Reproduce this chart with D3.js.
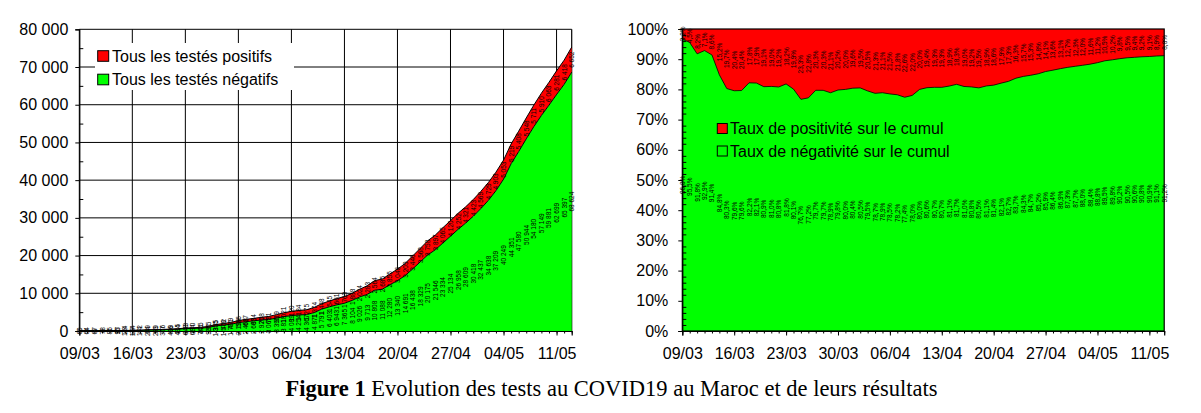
<!DOCTYPE html>
<html>
<head>
<meta charset="utf-8">
<script src="https://cdn.jsdelivr.net/npm/d3@7"></script>
<style>
  body { margin: 0; background: #fff; }
  svg { display: block; font-family: Arial, "Liberation Sans", sans-serif; }
</style>
</head>
<body>
<svg id="chart" width="1201" height="413"></svg>
<script>
// Category labels (one per day, 09/03 to 13/05)
const days = [
  "09/03","10/03","11/03","12/03","13/03","14/03","15/03","16/03","17/03","18/03",
  "19/03","20/03","21/03","22/03","23/03","24/03","25/03","26/03","27/03","28/03",
  "29/03","30/03","31/03","01/04","02/04","03/04","04/04","05/04","06/04","07/04",
  "08/04","09/04","10/04","11/04","12/04","13/04","14/04","15/04","16/04","17/04",
  "18/04","19/04","20/04","21/04","22/04","23/04","24/04","25/04","26/04","27/04",
  "28/04","29/04","30/04","01/05","02/05","03/05","04/05","05/05","06/05","07/05",
  "08/05","09/05","10/05","11/05","12/05","13/05"
];

// Cumulative positive tests
const positifs = [
  2, 3, 6, 6, 8, 17, 28, 37, 44, 54,
  63, 77, 96, 115, 143, 170, 225, 275, 345, 402,
  479, 556, 617, 654, 708, 791, 919, 1021, 1120, 1184,
  1275, 1374, 1448, 1545, 1661, 1763, 1888, 2024, 2283, 2564,
  2685, 2855, 3046, 3209, 3446, 3568, 3758, 3897, 4065, 4120,
  4252, 4321, 4423, 4569, 4729, 4903, 5053, 5219, 5408, 5548,
  5711, 5910, 6063, 6281, 6418, 6652
];

// Cumulative negative tests
const negatifs = [
  60, 64, 67, 78, 85, 95, 114, 144, 172, 249,
  289, 326, 409, 484, 643, 684, 741, 931, 1355, 1578,
  1791, 2196, 2468, 2683, 2920, 3067, 3395, 3818, 4089, 4254,
  4367, 4871, 5791, 6403, 6943, 7365, 8104, 9026, 9713, 10808,
  11088, 12280, 13340, 14691, 16438, 18329, 20175, 21546, 23334, 25134,
  26958, 28609, 30418, 32437, 34638, 37209, 40249, 44351, 47580, 50944,
  54180, 57149, 59881, 62699, 65397, 68624
];

// Weekly tick labels
const weekTicks = ["09/03","16/03","23/03","30/03","06/04","13/04","20/04","27/04","04/05","11/05"];
const leftYTicks = [0, 10000, 20000, 30000, 40000, 50000, 60000, 70000, 80000];
const rightYTicks = [0, 0.1, 0.2, 0.3, 0.4, 0.5, 0.6, 0.7, 0.8, 0.9, 1];

const RED = "#ff0000", GREEN = "#00ff00";
const SANS = "Arial, 'Liberation Sans', sans-serif";

const fr = d3.formatLocale({ decimal: ",", thousands: " ", grouping: [3], currency: ["", ""], percent: "%" });
const fmtInt = fr.format(",d");
const fmtPct = fr.format(".1%");
const fmtPct0 = fr.format(".0%");

const parse = d3.timeParse("%d/%m/%Y");
const dates = days.map(d => parse(d + "/2020"));
const weekDates = weekTicks.map(d => parse(d + "/2020"));
const rows = days.map((d, i) => ({
  date: dates[i],
  pos: positifs[i],
  neg: negatifs[i],
  total: positifs[i] + negatifs[i]
}));

const svg = d3.select("#chart");

function dayAxes(g, x, bottom) {
  // daily minor ticks
  g.append("g")
    .attr("transform", `translate(0,${bottom})`)
    .call(d3.axisBottom(x).tickValues(dates).tickSize(2.5).tickFormat(""))
    .call(a => a.select(".domain").remove())
    .call(a => a.selectAll("line").attr("stroke", "#000"));
  // weekly major ticks + labels
  g.append("g")
    .attr("transform", `translate(0,${bottom})`)
    .call(d3.axisBottom(x).tickValues(weekDates)
      .tickSize(4.5).tickPadding(12.5)
      .tickFormat(d3.timeFormat("%d/%m")))
    .call(a => a.select(".domain").attr("stroke", "#000").attr("stroke-width", 1.2))
    .call(a => a.selectAll("line").attr("stroke", "#000"))
    .call(a => a.selectAll("text").attr("font-size", 16).attr("fill", "#000").attr("font-family", SANS));
}

function addLabels(g, data, x, y, fmt) {
  const lab = g.append("g").attr("font-size", 6.5).attr("fill", "#000")
    .attr("font-family", SANS)
    .attr("text-anchor", "middle").attr("dominant-baseline", "central");
  lab.selectAll("text.neg").data(data).join("text").attr("class", "neg")
    .attr("transform", d => `translate(${x(d.date)},${y(d.neg / 2)}) rotate(-90)`)
    .text(d => fmt(d.neg));
  lab.selectAll("text.pos").data(data).join("text").attr("class", "pos")
    .attr("transform", d => `translate(${x(d.date)},${y(d.neg + d.pos / 2)}) rotate(-90)`)
    .text(d => fmt(d.pos));
}

// ---------------- Left chart: cumulative counts ----------------
(function leftChart() {
  const L = { x0: 79.3, x1: 571.7, top: 29.3, bottom: 331 };
  const x = d3.scaleTime().domain(d3.extent(dates)).range([L.x0, L.x1]);
  const y = d3.scaleLinear().domain([0, 80000]).range([L.bottom, L.top]);
  const g = svg.append("g");

  // gridlines
  g.append("g").selectAll("line").data(leftYTicks).join("line")
    .attr("x1", L.x0).attr("x2", L.x1)
    .attr("y1", d => y(d)).attr("y2", d => y(d))
    .attr("stroke", "#000").attr("stroke-width", 1);
  g.append("g").selectAll("line").data(weekDates).join("line")
    .attr("x1", d => x(d)).attr("x2", d => x(d))
    .attr("y1", L.top).attr("y2", L.bottom)
    .attr("stroke", "#000").attr("stroke-width", 1);
  g.append("line")
    .attr("x1", L.x1).attr("x2", L.x1).attr("y1", L.top).attr("y2", L.bottom)
    .attr("stroke", "#000").attr("stroke-width", 1.2);

  // stacked areas
  g.append("path").datum(rows)
    .attr("fill", RED)
    .attr("d", d3.area().x(d => x(d.date)).y0(d => y(d.neg)).y1(d => y(d.total)));
  g.append("path").datum(rows)
    .attr("fill", GREEN)
    .attr("d", d3.area().x(d => x(d.date)).y0(L.bottom).y1(d => y(d.neg)));
  g.append("path").datum(rows)
    .attr("fill", "none").attr("stroke", "#000").attr("stroke-width", 1)
    .attr("d", d3.line().x(d => x(d.date)).y(d => y(d.total)));
  g.append("path").datum(rows)
    .attr("fill", "none").attr("stroke", "#000").attr("stroke-width", 1)
    .attr("d", d3.line().x(d => x(d.date)).y(d => y(d.neg)));

  addLabels(g, rows, x, y, fmtInt);

  // y axis: major ticks outward, minor ticks inward
  g.append("g").attr("transform", `translate(${L.x0},0)`)
    .call(d3.axisLeft(y).tickValues(d3.range(5000, 80000, 10000)).tickSize(-4).tickFormat(""))
    .call(a => a.select(".domain").remove())
    .call(a => a.selectAll("line").attr("stroke", "#000"));
  g.append("g").attr("transform", `translate(${L.x0},0)`)
    .call(d3.axisLeft(y).tickValues(leftYTicks).tickSize(4).tickPadding(7).tickFormat(fmtInt))
    .call(a => a.select(".domain").attr("stroke", "#000").attr("stroke-width", 1.2))
    .call(a => a.selectAll("line").attr("stroke", "#000"))
    .call(a => a.selectAll("text").attr("font-size", 16).attr("fill", "#000").attr("font-family", SANS));
  dayAxes(g, x, L.bottom);

  // legend
  const lg = g.append("g");
  lg.append("rect").attr("x", 95).attr("y", 43).attr("width", 199).attr("height", 47).attr("fill", "#fff");
  const items = [["Tous les testés positifs", RED, 56], ["Tous les testés négatifs", GREEN, 79.5]];
  items.forEach(([t, c, cy]) => {
    lg.append("rect").attr("x", 97.7).attr("y", cy - 5.3).attr("width", 11).attr("height", 10.6)
      .attr("fill", c).attr("stroke", "#000").attr("stroke-width", 1);
    lg.append("text").attr("x", 112).attr("y", cy).attr("dy", "0.36em")
      .attr("font-size", 16).attr("fill", "#000").attr("font-family", SANS).text(t);
  });
})();

// ---------------- Right chart: share of positives / negatives ----------------
(function rightChart() {
  const R = { x0: 682.3, x1: 1164.2, top: 29, bottom: 331 };
  const x = d3.scaleTime().domain(d3.extent(dates)).range([R.x0, R.x1]);
  const y = d3.scaleLinear().domain([0, 1]).range([R.bottom, R.top]);
  const g = svg.append("g");
  const share = rows.map(d => ({ date: d.date, neg: d.neg / d.total, pos: d.pos / d.total }));

  g.append("rect").attr("x", R.x0).attr("y", R.top)
    .attr("width", R.x1 - R.x0).attr("height", R.bottom - R.top)
    .attr("fill", RED);
  g.append("path").datum(share)
    .attr("fill", GREEN)
    .attr("d", d3.area().x(d => x(d.date)).y0(R.bottom).y1(d => y(d.neg)));
  g.append("path").datum(share)
    .attr("fill", "none").attr("stroke", "#000").attr("stroke-width", 0.8)
    .attr("d", d3.line().x(d => x(d.date)).y(d => y(d.neg)));
  g.append("rect").attr("x", R.x0).attr("y", R.top)
    .attr("width", R.x1 - R.x0).attr("height", R.bottom - R.top)
    .attr("fill", "none").attr("stroke", "#000").attr("stroke-width", 1.2);

  addLabels(g, share, x, y, fmtPct);

  g.append("g").attr("transform", `translate(${R.x0},0)`)
    .call(d3.axisLeft(y).tickValues(d3.range(0.02, 1, 0.02).filter(v => Math.round(v * 100) % 10 !== 0))
      .tickSize(-4).tickFormat(""))
    .call(a => a.select(".domain").remove())
    .call(a => a.selectAll("line").attr("stroke", "#000"));
  g.append("g").attr("transform", `translate(${R.x0},0)`)
    .call(d3.axisLeft(y).tickValues(rightYTicks).tickSize(4).tickPadding(10).tickFormat(fmtPct0))
    .call(a => a.select(".domain").attr("stroke", "#000").attr("stroke-width", 1.2))
    .call(a => a.selectAll("line").attr("stroke", "#000"))
    .call(a => a.selectAll("text").attr("font-size", 16).attr("fill", "#000").attr("font-family", SANS));
  dayAxes(g, x, R.bottom);

  const items = [["Taux de positivité sur le cumul", RED, 128.5], ["Taux de négativité sur le cumul", "none", 151]];
  items.forEach(([t, c, cy]) => {
    g.append("rect").attr("x", 717.3).attr("y", cy - 5).attr("width", 10).attr("height", 10)
      .attr("fill", c).attr("stroke", "#000").attr("stroke-width", 1);
    g.append("text").attr("x", 730).attr("y", cy).attr("dy", "0.36em")
      .attr("font-size", 16).attr("fill", "#000").attr("font-family", SANS).text(t);
  });
})();

// caption
const cap = svg.append("text")
  .attr("x", 611.5).attr("y", 396).attr("text-anchor", "middle")
  .style("font-family", "'Times New Roman', 'Liberation Serif', serif")
  .attr("font-size", 22.5).attr("fill", "#000");
cap.append("tspan").attr("font-weight", "bold").text("Figure 1");
cap.append("tspan").text(" Evolution des tests au COVID19 au Maroc et de leurs résultats");
</script>
</body>
</html>
